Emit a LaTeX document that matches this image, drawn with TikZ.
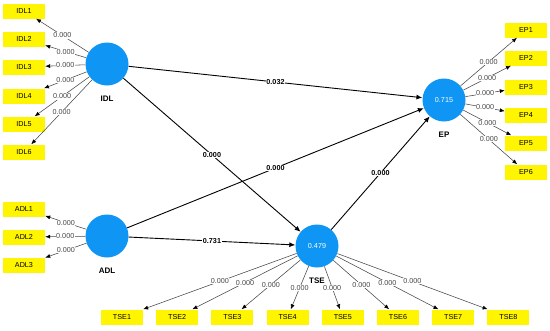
\documentclass[tikz,border=0pt]{standalone}
\usepackage{fontspec}
\setmainfont{Liberation Sans}
\usepackage{xcolor}
\usetikzlibrary{arrows.meta,positioning}

\definecolor{lvblue}{RGB}{15,150,245}
\definecolor{mvyellow}{RGB}{255,245,0}

\begin{document}
\begin{tikzpicture}[x=1pt, y=-1pt,
  every node/.style={font=\fontsize{7.2}{8}\selectfont, align=center},
  latent/.style={circle, fill=lvblue, minimum size=43pt, inner sep=0pt, text=white},
  manifest/.style={rectangle, fill=mvyellow, minimum width=42pt, minimum height=15pt, inner sep=0pt},
  lvname/.style={font=\fontsize{8}{9}\selectfont\bfseries, inner sep=1pt},
  inner/.style={draw, line width=0.9pt, -{Latex[length=6pt,width=5pt]}},
  outer/.style={draw, black!72, line width=0.55pt, -{Latex[length=5pt,width=4pt,color=black]}},
  coef/.style={fill=white, inner sep=0.5pt, pos=0.5, font=\fontsize{7.2}{8}\selectfont\bfseries},
  weight/.style={fill=white, inner sep=0.5pt, pos=0.5}]
  \useasboundingbox (0,0) rectangle (550,330);

  \node[latent] (IDL) at (107,64) {};
  \node[latent] (ADL) at (107,236) {};
  \node[latent] (EP) at (444,100) {0.715};
  \node[latent] (TSE) at (317,246) {0.479};
  \node[lvname, below=9.5pt of IDL] (IDLname) {IDL};
  \node[lvname, below=9.5pt of ADL] (ADLname) {ADL};
  \node[lvname, below=9.5pt of EP] (EPname) {EP};
  \node[lvname, below=9.5pt of TSE] (TSEname) {TSE};

  \foreach \i/\y in {1/11,2/39,3/67,4/96,5/124,6/152}
    \node[manifest] (IDL\i) at (24,\y) {IDL\i};
  \foreach \i/\y in {1/209,2/237,3/265}
    \node[manifest] (ADL\i) at (24,\y) {ADL\i};
  \foreach \i/\y in {1/30,2/58,3/87,4/115,5/143,6/172}
    \node[manifest] (EP\i) at (526,\y) {EP\i};
  \foreach \i in {1,...,8}
    \node[manifest] (TSE\i) at ({122+55.2*(\i-1)},317) {TSE\i};

  \foreach \i in {1,...,6}
    \draw[outer] (IDL) -- node[weight] {0.000} (IDL\i);
  \foreach \i in {1,...,3}
    \draw[outer] (ADL) -- node[weight] {0.000} (ADL\i);
  \foreach \i in {1,...,6}
    \draw[outer] (EP) -- node[weight] {0.000} (EP\i);
  \foreach \i in {1,...,8}
    \draw[outer] (TSE) -- node[weight] {0.000} (TSE\i);

  \draw[inner] (IDL) -- node[coef] {0.032} (EP);
  \draw[inner] (IDL) -- node[coef] {0.000} (TSE);
  \draw[inner] (ADL) -- node[coef] {0.000} (EP);
  \draw[inner] (ADL) -- node[coef] {0.731} (TSE);
  \draw[inner] (TSE) -- node[coef] {0.000} (EP);
\end{tikzpicture}
\end{document}
